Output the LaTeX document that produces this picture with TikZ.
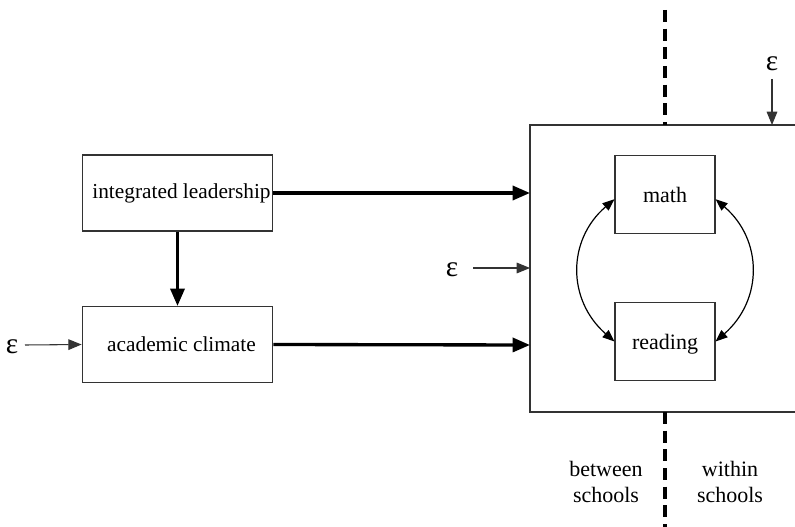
\documentclass[tikz,border=0pt]{standalone}
\usepackage{fontspec}
\setmainfont{Liberation Serif}
\usetikzlibrary{arrows.meta}
\begin{document}
\begin{tikzpicture}[x=0.75pt,y=-0.75pt,
  box/.style={draw=black!80,line width=0.8pt,minimum width=143pt,minimum height=57pt,inner sep=0pt,font=\fontsize{16}{18}\selectfont},
  smallbox/.style={draw=black!80,line width=0.8pt,minimum width=75pt,minimum height=59pt,inner sep=0pt,font=\fontsize{16.5}{18}\selectfont},
  thickarrow/.style={line width=2.5pt,-{Triangle[length=13pt,width=10.5pt]}},
  thinarrow/.style={draw=black!80,line width=0.8pt,-{Triangle[length=10pt,width=8pt]}},
  curvearrow/.style={line width=0.9pt,{Triangle[length=9pt,width=7pt]}-{Triangle[length=9pt,width=7pt]}},
  divider/.style={line width=2.4pt,dash pattern=on 9pt off 5pt},
  lbl/.style={font=\fontsize{16.5}{19}\selectfont,inner sep=0pt},
  eps/.style={font=\fontsize{22}{24}\selectfont,inner sep=0pt}]
\useasboundingbox (0,0) rectangle (795,527);

% level-2 frame, open on the right
\coordinate (ftl) at (530,125);
\coordinate (fbl) at (530,412);
\draw[black!80,line width=0.8pt] (800,125) -- (ftl) -- (fbl) -- (800,412);

% between/within divider
\draw[divider] (665,10) -- (665,125);
\draw[divider] (665,412) -- (665,527);

% school-level variables
\node[box] (lead) at (177.5,193) {\hspace*{6pt}integrated leadership};
\node[box] (clim) at (177.5,344.5) {\hspace*{6pt}academic climate};

% student-level outcomes
\node[smallbox] (math) at (665,194.5) {math};
\node[smallbox] (read) at (665,341.5) {\raisebox{-6pt}[0pt][0pt]{reading}};

% paths
\coordinate (fin1) at (530,193);
\coordinate (fin2) at (530,345);
\draw[thickarrow] (lead.south) -- (clim.north);
\draw[thickarrow] (lead.east) -- (fin1);
\draw[thickarrow] (clim.east) -- (fin2);

% residuals
\node[eps] (e1) at (12,347) {ε};
\draw[thinarrow] (25,345) -- (clim.west);
\node[eps] (e2) at (452,270) {ε};
\coordinate (fin3) at (530,268);
\draw[thinarrow] (473,268) -- (fin3);
\node[eps] (e3) at (772,64) {ε};
\coordinate (ftop) at (772,125);
\draw[thinarrow] (772,79) -- (ftop);

% covariances
\draw[curvearrow] ([yshift=-3.5pt]math.west) .. controls (567,240) and (567,300) .. (read.west);
\draw[curvearrow] ([yshift=-3.5pt]math.east) .. controls (763,240) and (763,300) .. (read.east);

% level labels
\node[lbl,align=center] (bs) at (606,482) {between\\schools};
\node[lbl,align=center] (ws) at (730,482) {within\\schools};
\end{tikzpicture}
\end{document}
